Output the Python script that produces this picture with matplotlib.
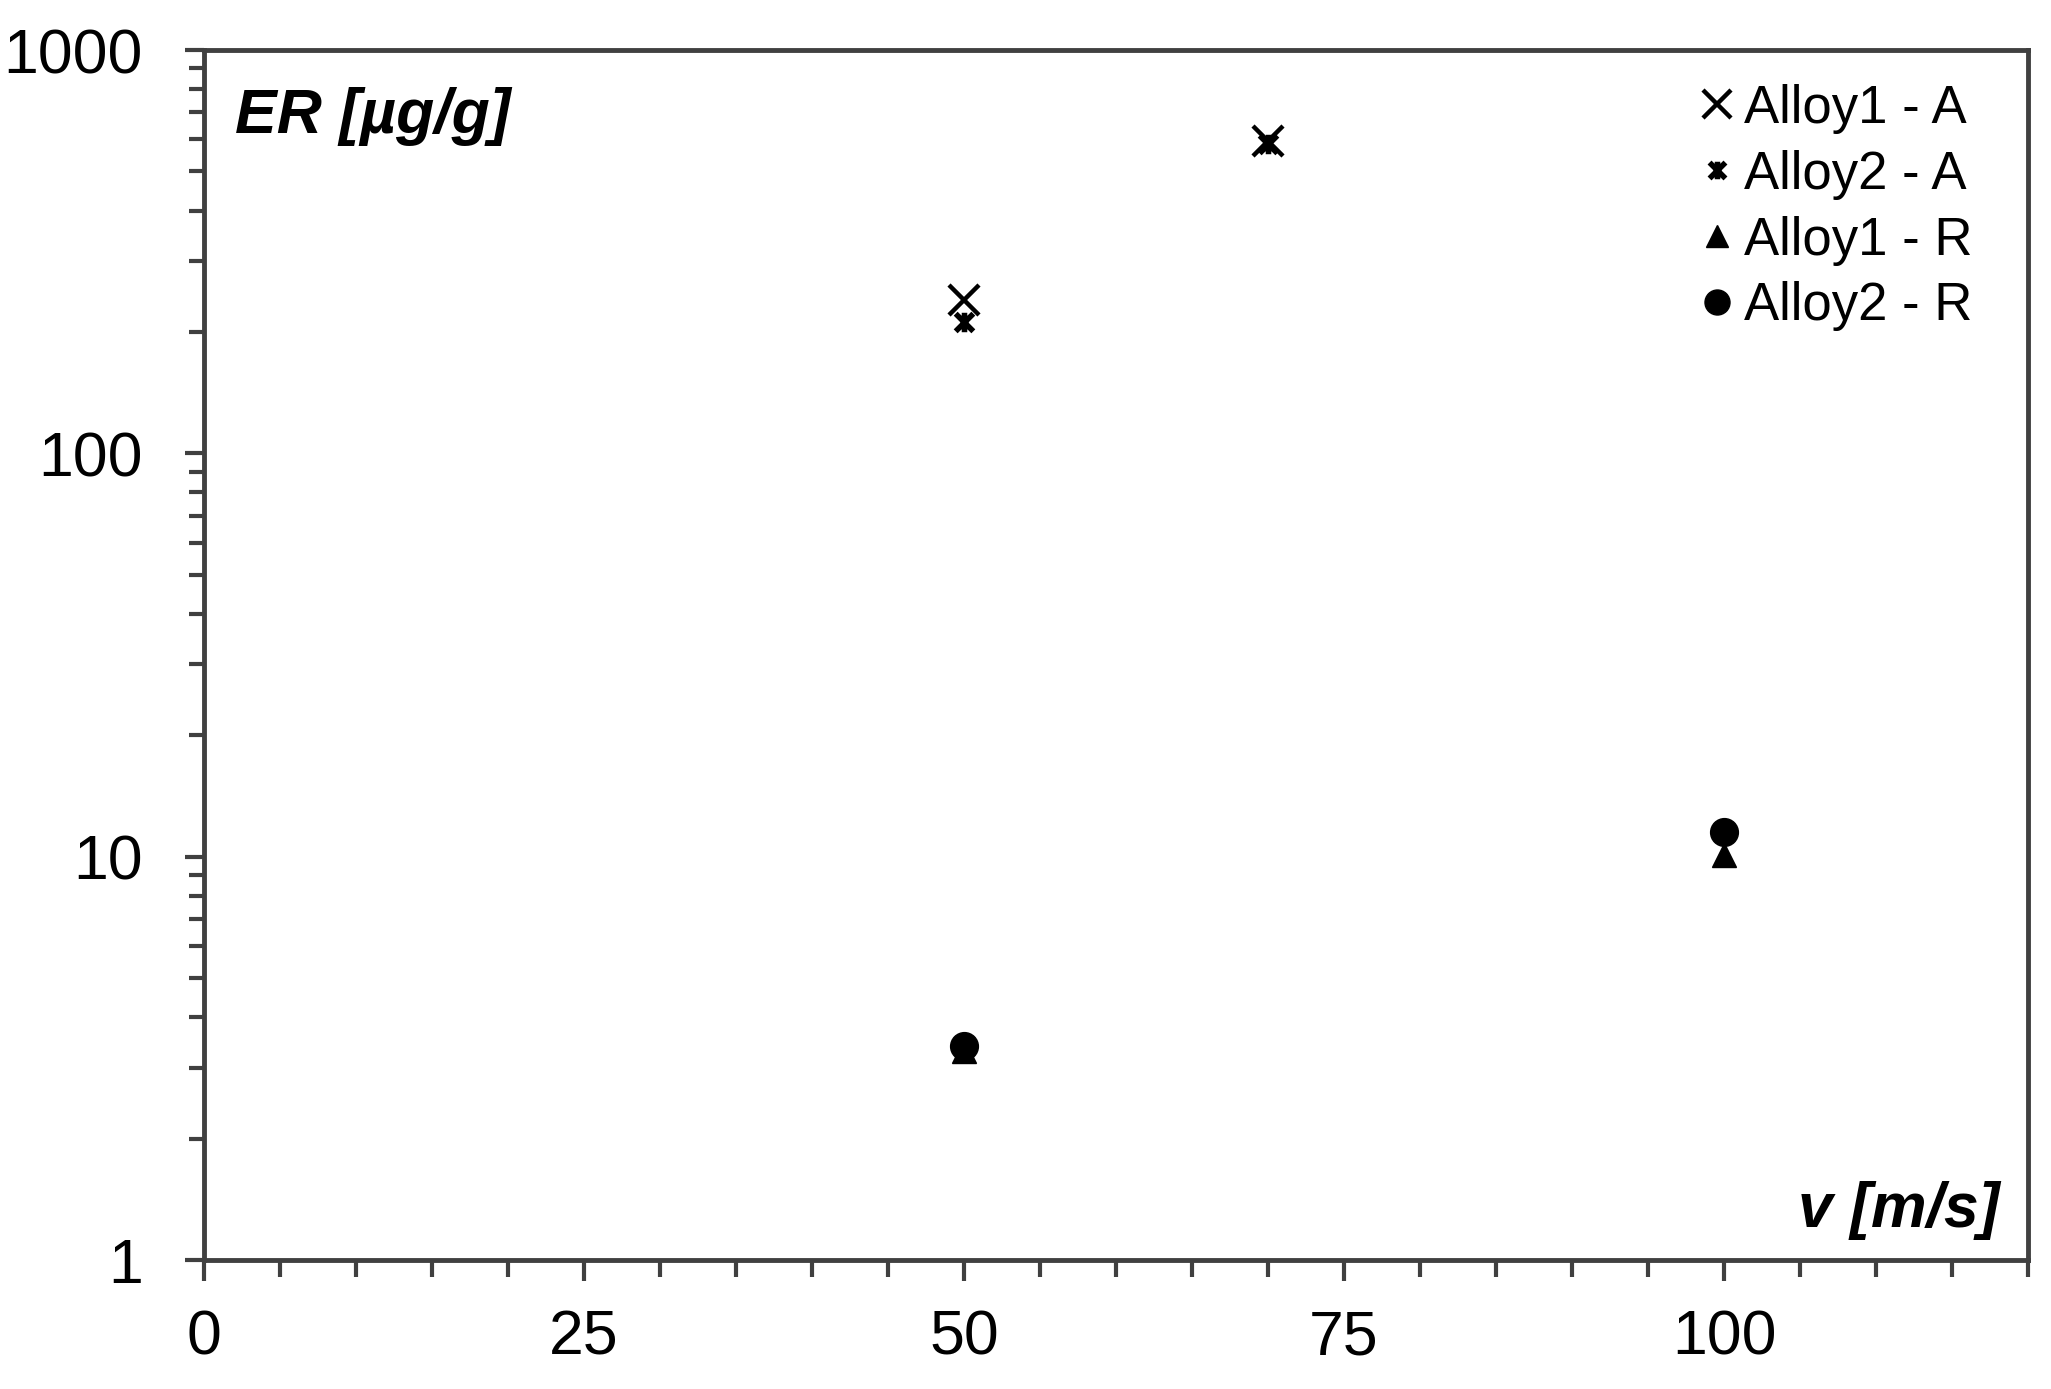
import numpy as np
import matplotlib
matplotlib.use('Agg')
import matplotlib.pyplot as plt
from matplotlib.path import Path
from matplotlib.ticker import FixedLocator, NullFormatter, LogLocator

# --- Data ---
ALLOY1_A_V = [50, 70]
ALLOY1_A_ER = [240, 595]
ALLOY2_A_V = [50, 70]
ALLOY2_A_ER = [212, 585]
ALLOY1_R_V = [50, 100]
ALLOY1_R_ER = [3.3, 10.1]
ALLOY2_R_V = [50, 100]
ALLOY2_R_ER = [3.4, 11.5]

SERIES_LABELS = ['Alloy1 - A', 'Alloy2 - A', 'Alloy1 - R', 'Alloy2 - R']
X_MAJOR_TICKS = [0, 25, 50, 75, 100]
Y_MAJOR_TICKS = [1, 10, 100, 1000]

plt.rcParams.update({
    'font.family': ['Liberation Sans', 'DejaVu Sans'],
    'font.size': 45,
})

FRAME_COLOR = '#404040'

# asterisk-like marker (x with a vertical bar), like the spreadsheet "star"
STAR_MARKER = Path(
    [(-1, -1), (1, 1), (-1, 1), (1, -1), (0, -1.1), (0, 1.1)],
    [Path.MOVETO, Path.LINETO, Path.MOVETO, Path.LINETO, Path.MOVETO, Path.LINETO])


def main():
    fig = plt.figure(figsize=(20.51, 13.89), dpi=100)
    ax = fig.add_axes([0.0995, 0.0929, 0.8893, 0.8711])

    ax.plot(ALLOY1_A_V, ALLOY1_A_ER, ls='none', marker='x', ms=22, mew=3.2,
            color='black', label=SERIES_LABELS[0])
    ax.plot(ALLOY2_A_V, ALLOY2_A_ER, ls='none', marker=STAR_MARKER, ms=14, mew=4,
            color='black', label=SERIES_LABELS[1])
    ax.plot(ALLOY1_R_V, ALLOY1_R_ER, ls='none', marker='^', ms=17,
            color='black', label=SERIES_LABELS[2])
    ax.plot(ALLOY2_R_V, ALLOY2_R_ER, ls='none', marker='o', ms=20,
            color='black', label=SERIES_LABELS[3])

    ax.set_yscale('log')
    ax.set_xlim(0, 120)
    ax.set_ylim(1, 1000)

    ax.xaxis.set_major_locator(FixedLocator(X_MAJOR_TICKS))
    ax.xaxis.set_minor_locator(FixedLocator(np.arange(0, 121, 5)))
    ax.set_xticklabels([str(t) for t in X_MAJOR_TICKS])
    ax.yaxis.set_major_locator(FixedLocator(Y_MAJOR_TICKS))
    ax.yaxis.set_minor_locator(LogLocator(base=10, subs=np.arange(2, 10)))
    ax.yaxis.set_minor_formatter(NullFormatter())
    ax.set_yticklabels([str(t) for t in Y_MAJOR_TICKS])

    for s in ax.spines.values():
        s.set_color(FRAME_COLOR); s.set_linewidth(3.5)
    ax.tick_params(axis='both', which='both', direction='out', color=FRAME_COLOR,
                   width=3, right=False, top=False)
    ax.tick_params(axis='x', which='major', length=15, pad=20)
    ax.tick_params(axis='x', which='minor', length=12)
    ax.tick_params(axis='y', which='major', length=14, pad=30)
    ax.tick_params(axis='y', which='minor', length=11)

    ax.text(0.017, 0.931, 'ER [µg/g]', transform=ax.transAxes, fontsize=45,
            fontweight='bold', fontstyle='italic', ha='left', va='baseline')
    ax.text(0.9846, 0.027, 'v [m/s]', transform=ax.transAxes, fontsize=45,
            fontweight='bold', fontstyle='italic', ha='right', va='baseline')

    ax.legend(loc='upper left', bbox_to_anchor=(0.821, 0.972), frameon=False,
              fontsize=38, borderpad=0, borderaxespad=0, handlelength=0.6,
              handletextpad=0.2, labelspacing=0.3, markerscale=0.9)

    fig.savefig('out.png', dpi=100)
    plt.close(fig)


if __name__ == '__main__':
    main()
